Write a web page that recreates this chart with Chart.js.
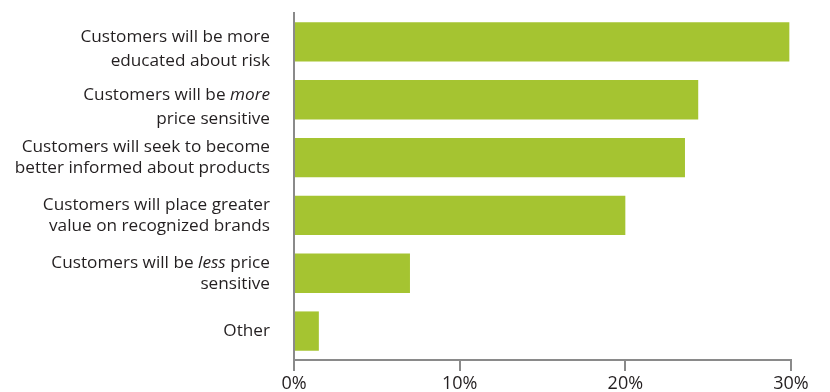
<!DOCTYPE html>
<html>
<head>
<meta charset="utf-8">
<script src="https://cdn.jsdelivr.net/npm/chart.js@4"></script>
<style>
  html, body { margin: 0; padding: 0; background: #fff; }
  #wrap { width: 830px; height: 392px; }
</style>
</head>
<body>
<div id="wrap"><canvas id="bars"></canvas></div>
<script>
// words wrapped in *...* are drawn in italic
const categories = [
    ['Customers will be more', 'educated about risk'],
    ['Customers will be *more*', 'price sensitive'],
    ['Customers will seek to become', 'better informed about products'],
    ['Customers will place greater', 'value on recognized brands'],
    ['Customers will be *less* price', 'sensitive'],
    ['Other']
];
const shares = [29.9, 24.4, 23.6, 20.0, 7.0, 1.5];
const xTicks = [0, 10, 20, 30];

const FONT = '"Open Sans", "Noto Sans", sans-serif';
const TEXT = '#231f20';
const AXIS = '#8a8a8a';

// draws the two-line category labels with italic bits
const labelPlugin = {
    id: 'catLabels',
    afterDraw(chart) {
        const ctx = chart.ctx;
        const y = chart.scales.y;
        const right = 270;
        const size = 17.2;
        ctx.save();
        ctx.fillStyle = TEXT;
        ctx.textBaseline = 'middle';
        categories.forEach((lines, i) => {
            const cy = y.getPixelForValue(i);
            const gap = i < 2 ? 24 : 21;
            const shift = i < 2 ? 7 : 0;
            lines.forEach((line, j) => {
                const ly = cy + shift + (j - (lines.length - 1) / 2) * gap;
                const parts = line.split('*');
                let w = 0;
                parts.forEach((p, k) => {
                    ctx.font = (k % 2 ? 'italic ' : '') + size + 'px ' + FONT;
                    w += ctx.measureText(p).width;
                });
                let x = right - w;
                ctx.textAlign = 'left';
                parts.forEach((p, k) => {
                    ctx.font = (k % 2 ? 'italic ' : '') + size + 'px ' + FONT;
                    ctx.fillText(p, x, ly);
                    x += ctx.measureText(p).width;
                });
            });
        });
        ctx.restore();
    }
};

new Chart(document.getElementById('bars'), {
    type: 'bar',
    data: {
        labels: categories.map(l => l.join(' ').replace(/\*/g, '')),
        datasets: [{
            data: shares,
            backgroundColor: '#a5c431',
            borderWidth: 0,
            barPercentage: 0.68,
            categoryPercentage: 1
        }]
    },
    options: {
        indexAxis: 'y',
        responsive: true,
        maintainAspectRatio: false,
        animation: false,
        layout: { padding: { top: 13, right: 39, bottom: 0, left: 0 } },
        plugins: { legend: { display: false }, tooltip: { enabled: false } },
        scales: {
            y: {
                ticks: { display: false },
                grid: { drawOnChartArea: false, drawTicks: false },
                border: { display: true, color: AXIS, width: 2 },
                afterFit(scale) { scale.width = 294; }
            },
            x: {
                min: 0,
                max: 30,
                afterBuildTicks(scale) { scale.ticks = xTicks.map(v => ({ value: v })); },
                ticks: {
                    callback: v => v + '%',
                    color: TEXT,
                    font: { family: FONT, size: 18 },
                    padding: 2,
                    maxRotation: 0
                },
                grid: { drawOnChartArea: false, drawTicks: true, tickLength: 11, color: AXIS, lineWidth: 2 },
                border: { display: true, color: AXIS, width: 2 },
                afterFit(scale) { scale.height = 32; }
            }
        }
    },
    plugins: [labelPlugin]
});
</script>
</body>
</html>
